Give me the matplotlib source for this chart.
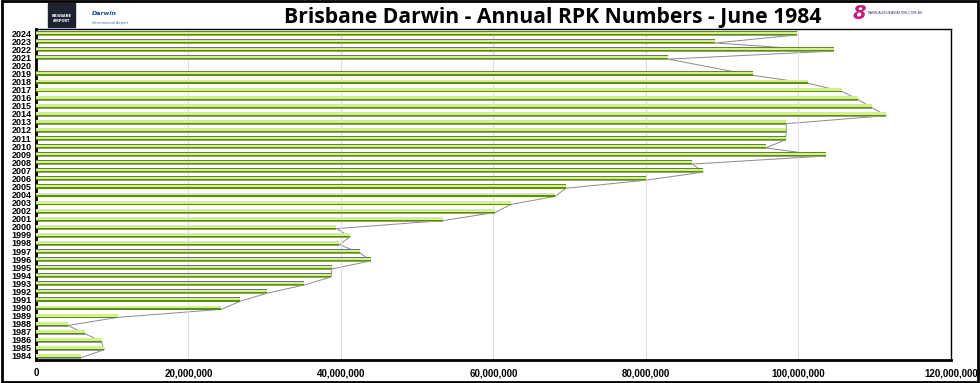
import matplotlib.pyplot as plt
import matplotlib.ticker as mticker
from matplotlib.patches import Rectangle
import numpy as np

# Annual RPK values (millions)
years = list(range(1984, 2025))
rpk_millions = [5.9, 8.95, 8.6, 6.4, 4.2, 10.7, 24.3, 26.8, 30.3, 35.1,
                38.7, 38.8, 43.9, 42.5, 39.8, 41.2, 39.4, 53.4, 60.2, 62.3,
                68.1, 69.5, 80.0, 87.5, 86.1, 103.6, 95.7, 98.3, 98.4, 98.4,
                111.5, 109.6, 107.8, 105.7, 101.3, 94.0, 0.0, 82.9, 104.6, 89.1,
                99.8]
title = "Brisbane Darwin - Annual RPK Numbers - June 1984"

rpk = np.array(rpk_millions) * 1e6
pos = np.arange(len(years))

fig = plt.figure(figsize=(9.8, 3.83), dpi=100)
ax = fig.add_axes([0.0367, 0.060, 0.9337, 0.864])

# 3D-ish bars: gray shadow, dark green edge, light green face
ax.barh(pos - 0.1, rpk, height=0.5, color="#9a9a9a", zorder=2)
ax.barh(pos, rpk, height=0.5, color="#5c8c1c", zorder=3)
ax.barh(pos + 0.04, rpk, height=0.3, color="#d2f08c", zorder=4)

# thin gray line joining the bar ends (2020 has no data)
mask = rpk > 0
ax.plot(rpk[mask], pos[mask] - 0.22, color="#8a8a8a", lw=0.7, zorder=1)

ax.set_xlim(0, 120e6)
ax.set_ylim(-0.5, len(years) - 0.5)
ax.set_xticks(np.arange(0, 120e6 + 1, 20e6))
ax.xaxis.set_major_formatter(mticker.FuncFormatter(lambda v, p: f"{v:,.0f}"))
ax.set_yticks(pos)
ax.set_yticklabels([str(y) for y in years])
ax.tick_params(axis="y", length=0, pad=3, labelsize=6.5)
ax.tick_params(axis="x", length=0, pad=6, labelsize=7)
for lab in ax.get_xticklabels() + ax.get_yticklabels():
    lab.set_fontweight("bold")
    lab.set_family("Liberation Sans")

ax.grid(axis="x", color="#dddddd", lw=0.8, zorder=0)
for side in ["left", "bottom"]:
    ax.spines[side].set_linewidth(2.0)
for side in ["top", "right"]:
    ax.spines[side].set_linewidth(1.0)

fig.text(0.564, 0.955, title, ha="center", va="center", fontsize=15.2,
         fontweight="bold", family="Open Sans")

# logos (rough stand-ins)
fig.patches.append(Rectangle((0.049, 0.93), 0.028, 0.062, transform=fig.transFigure,
                             color="#1c2230", zorder=5))
fig.text(0.063, 0.952, "BRISBANE\nAIRPORT", ha="center", va="center", fontsize=2.5,
         color="white", fontweight="bold", zorder=6)
fig.text(0.094, 0.965, "Darwin", ha="left", va="center", fontsize=4.5,
         color="#1a4a8a", fontweight="bold", style="italic")
fig.text(0.094, 0.94, "International Airport", ha="left", va="center", fontsize=2.5,
         color="#3a6aa0")
fig.text(0.877, 0.965, "8", ha="center", va="center", fontsize=14, color="#c0207a",
         fontweight="bold", style="italic")
fig.text(0.886, 0.967, "WWW.AUSSIEAVIATION.COM.AU", ha="left", va="center",
         fontsize=2.5, color="#3a2a7a")

# outer frame
fig.patches.append(Rectangle((0.002, 0.003), 0.996, 0.994, transform=fig.transFigure,
                             fill=False, lw=2, edgecolor="black", zorder=10))

fig.savefig("out.png", dpi=100)
